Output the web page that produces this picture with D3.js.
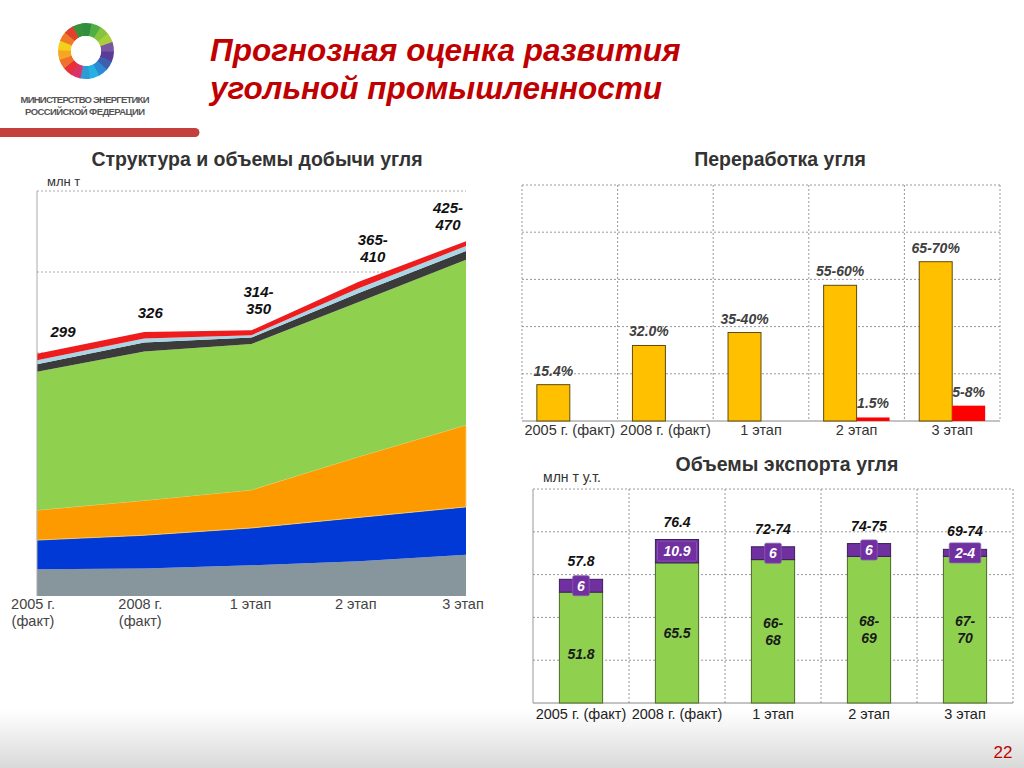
<!DOCTYPE html>
<html><head><meta charset="utf-8">
<script src="https://cdn.jsdelivr.net/npm/d3@7/dist/d3.min.js"></script>
<style>body{margin:0;background:#fff}svg{display:block;font-family:"Liberation Sans",Arial,sans-serif}</style>
</head><body>
<svg id="c" width="1024" height="768"></svg>
<script>
// ---------- DATA ----------
const prodCategories = ["2005 г.|(факт)", "2008 г.|(факт)", "1 этап", "2 этап", "3 этап"];
const prodGrey   = [33, 34, 38, 43, 51];
const prodBlue   = [36, 41, 46, 54, 59];
const prodOrange = [37, 43, 47, 75, 101];
const prodGreen  = [171, 184, 180, 191, 204];
const prodDark   = [9, 11, 8, 11, 11];
const prodLight  = [5, 5, 3, 6, 6];
const prodRed    = [8, 8, 6, 8, 6];
const prodLabels = ["299", "326", "314-|350", "365-|410", "425-|470"];
const prodTicks  = [0, 100, 200, 300, 400, 500];

const procCategories = ["2005 г. (факт)", "2008 г. (факт)", "1 этап", "2 этап", "3 этап"];
const procYellow = [15.4, 32.0, 37.5, 57.5, 67.5];
const procRed    = [0, 0, 0, 1.5, 6.5];
const procYellowLabels = ["15.4%", "32.0%", "35-40%", "55-60%", "65-70%"];
const procRedLabels    = ["", "", "", "1.5%", "5-8%"];
const procTicks = [0, 20, 40, 60, 80, 100];

const expCategories = ["2005 г. (факт)", "2008 г. (факт)", "1 этап", "2 этап", "3 этап"];
const expGreen  = [51.8, 65.5, 67, 68.5, 68.5];
const expPurple = [6, 10.9, 6, 6, 3.3];
const expGreenLabels  = ["51.8", "65.5", "66-|68", "68-|69", "67-|70"];
const expPurpleLabels = ["6", "10.9", "6", "6", "2-4"];
const expTotalLabels  = ["57.8", "76.4", "72-74", "74-75", "69-74"];
const expTicks = [0, 20, 40, 60, 80, 100];

// ---------- PAGE ----------
const svg = d3.select("#c");
const defs = svg.append("defs");
const bg = defs.append("linearGradient").attr("id","bg").attr("x1",0).attr("y1",0).attr("x2",0).attr("y2",1);
bg.append("stop").attr("offset","0").attr("stop-color","#ffffff");
bg.append("stop").attr("offset","1").attr("stop-color","#d9d9d9");
svg.append("rect").attr("width",1024).attr("height",768).attr("fill","#fff");
svg.append("rect").attr("y",710).attr("width",1024).attr("height",58).attr("fill","url(#bg)");

// logo ring
const ringColors = ["#2f8f3c","#4fae45","#86c440","#a9cf3a","#7a55a3","#5a3c96","#3c5fb0","#2b8ad3","#27b0e2","#2c9bd6","#d8336b","#e8303a","#f0712b","#f6a623","#f4cf1c","#ee7a2a","#e2402f","#3a8f3a"];
const logo = svg.append("g").attr("transform","translate(86,51)");
const segA = 2*Math.PI/ringColors.length;
const arcGen = d3.arc().innerRadius(15).outerRadius(28);
logo.selectAll("path").data(ringColors).join("path")
  .attr("d",(d,i)=>arcGen({startAngle:i*segA-0.15, endAngle:(i+1)*segA+0.03-0.15}))
  .attr("fill",d=>d);
logo.append("circle").attr("r",15).attr("fill","#fff");
svg.append("text").attr("x",85).attr("y",103).attr("text-anchor","middle").attr("font-size",9.5).attr("font-weight","bold")
  .attr("fill","#555").attr("textLength",129).text("МИНИСТЕРСТВО ЭНЕРГЕТИКИ");
svg.append("text").attr("x",85).attr("y",115).attr("text-anchor","middle").attr("font-size",9.5).attr("font-weight","bold")
  .attr("fill","#555").attr("textLength",120).text("РОССИЙСКОЙ ФЕДЕРАЦИИ");
svg.append("path").attr("d","M0,128 H195 A4.5,4.5 0 0 1 195,137 H0 Z").attr("fill","#c4403c");

svg.append("text").attr("x",210).attr("y",61).attr("font-size",31.5).attr("font-weight","bold").attr("font-style","italic")
  .attr("fill","#c00000").text("Прогнозная оценка развития");
svg.append("text").attr("x",210).attr("y",99).attr("font-size",31.5).attr("font-weight","bold").attr("font-style","italic")
  .attr("fill","#c00000").text("угольной промышленности");
svg.append("text").attr("x",1003).attr("y",758).attr("text-anchor","middle").attr("font-size",17)
  .attr("fill","#c00000").text("22");

// ---------- LEFT: stacked area ----------
{
  const x0 = 37, x1 = 466, yTop = 191, yBot = 596;
  const x = d3.scalePoint().domain(prodCategories).range([x0, x1]);
  const y = d3.scaleLinear().domain([0, 500]).range([yBot, yTop]);
  const keys = ["grey","blue","orange","green","dark","light","red"];
  const colors = {grey:"#87959c", blue:"#0039d6", orange:"#fd9a00", green:"#8fd14f", dark:"#3b3b3b", light:"#a9d6e6", red:"#ee1c1c"};
  const series = {grey:prodGrey, blue:prodBlue, orange:prodOrange, green:prodGreen, dark:prodDark, light:prodLight, red:prodRed};
  const rows = prodCategories.map((c,i)=>{const r={cat:c}; keys.forEach(k=>r[k]=series[k][i]); return r;});
  const stacked = d3.stack().keys(keys)(rows);
  const g = svg.append("g");
  svg.append("text").attr("x",257).attr("y",166).attr("text-anchor","middle").attr("font-size",19.5).attr("font-weight","bold")
    .attr("fill","#333").text("Структура и объемы добычи угля");
  svg.append("text").attr("x",47).attr("y",186).attr("font-size",13).attr("fill","#333").text("млн т");
  g.selectAll("line.grid").data(prodTicks.slice(1)).join("line")
    .attr("x1",x0).attr("x2",x1).attr("y1",d=>y(d)).attr("y2",d=>y(d))
    .attr("stroke","#aaa").attr("stroke-dasharray","2,2");
  const area = d3.area().x(d=>x(d.data.cat)).y0(d=>y(d[0])).y1(d=>y(d[1]));
  g.selectAll("path.layer").data(stacked).join("path")
    .attr("d",area).attr("fill",d=>colors[d.key])
    .attr("stroke",d=>d.key==="orange"?"#f2d27a":"none").attr("stroke-width",0.8);
  g.append("line").attr("x1",x0).attr("x2",x0).attr("y1",yTop).attr("y2",yBot).attr("stroke","#aaa");
  // labels
  const nudge = [26, 6, 7, 14, -18];
  const lift  = [17, 14, 16, 20, 11];
  const top = stacked[stacked.length-1];
  prodLabels.forEach((lab,i)=>{
    const lines = lab.split("|");
    const t = g.append("text").attr("text-anchor","middle").attr("font-size",15).attr("font-weight","bold")
      .attr("font-style","italic").attr("fill","#111");
    lines.forEach((ln,j)=>{
      t.append("tspan").attr("x",x(prodCategories[i])+nudge[i])
        .attr("y",y(top[i][1]) - lift[i] - (lines.length-1-j)*17).text(ln);
    });
  });
  // x labels
  const shift = [-4, -4, -1, -3, -3];
  prodCategories.forEach((c,i)=>{
    const lines = c.split("|");
    const t = g.append("text").attr("text-anchor","middle").attr("font-size",14.5).attr("fill","#444");
    lines.forEach((ln,j)=>t.append("tspan").attr("x",x(c)+shift[i]).attr("y",609+j*17).text(ln));
  });
}

// ---------- RIGHT TOP: grouped bars ----------
{
  const x0 = 522, x1 = 1000, yTop = 185, yBot = 421;
  const x = d3.scaleBand().domain(procCategories).range([x0, x1]);
  const xs = d3.scaleBand().domain(["y","r"]).range([0, x.bandwidth()]).paddingOuter(0.45).paddingInner(0);
  const y = d3.scaleLinear().domain([0, 100]).range([yBot, yTop]);
  const g = svg.append("g");
  svg.append("text").attr("x",780).attr("y",166).attr("text-anchor","middle").attr("font-size",19.5).attr("font-weight","bold")
    .attr("fill","#333").text("Переработка угля");
  g.selectAll("line.h").data(procTicks.slice(1)).join("line")
    .attr("x1",x0).attr("x2",x1).attr("y1",d=>y(d)).attr("y2",d=>y(d)).attr("stroke","#999").attr("stroke-dasharray","2,2");
  const vx = procCategories.map(c=>x(c)).concat([x1]);
  g.selectAll("line.v").data(vx).join("line")
    .attr("x1",d=>d).attr("x2",d=>d).attr("y1",yTop).attr("y2",yBot).attr("stroke","#999").attr("stroke-dasharray","2,2");
  g.append("line").attr("x1",x0).attr("x2",x1).attr("y1",yBot).attr("y2",yBot).attr("stroke","#888");
  procCategories.forEach((c,i)=>{
    g.append("rect").attr("x",x(c)+xs("y")).attr("y",y(procYellow[i])).attr("width",xs.bandwidth())
      .attr("height",yBot-y(procYellow[i])).attr("fill","#ffc000").attr("stroke","#5e4a10").attr("stroke-width",1);
    g.append("text").attr("x",x(c)+xs("y")+xs.bandwidth()/2).attr("y",y(procYellow[i])-9).attr("text-anchor","middle")
      .attr("font-size",14).attr("font-weight","bold").attr("font-style","italic").attr("fill","#404040").text(procYellowLabels[i]);
    if (procRed[i] > 0) {
      g.append("rect").attr("x",x(c)+xs("r")).attr("y",y(procRed[i])).attr("width",xs.bandwidth())
        .attr("height",yBot-y(procRed[i])).attr("fill","#ff0000");
      g.append("text").attr("x",x(c)+xs("r")+xs.bandwidth()/2).attr("y",y(procRed[i])-9).attr("text-anchor","middle")
        .attr("font-size",14).attr("font-weight","bold").attr("font-style","italic").attr("fill","#404040").text(procRedLabels[i]);
    }
    g.append("text").attr("x",x(c)+x.bandwidth()/2).attr("y",434.5).attr("text-anchor","middle").attr("font-size",14.5)
      .attr("fill","#333").text(c);
  });
}

// ---------- RIGHT BOTTOM: stacked bars ----------
{
  const x0 = 533, x1 = 1013, yTop = 489, yBot = 703;
  const x = d3.scaleBand().domain(expCategories).range([x0, x1]).paddingInner(0.55).paddingOuter(0.275);
  const xb = d3.scaleBand().domain(expCategories).range([x0, x1]);
  const y = d3.scaleLinear().domain([0, 100]).range([yBot, yTop]);
  const g = svg.append("g");
  svg.append("text").attr("x",787).attr("y",471).attr("text-anchor","middle").attr("font-size",19.5).attr("font-weight","bold")
    .attr("fill","#333").text("Объемы экспорта угля");
  svg.append("text").attr("x",543).attr("y",482).attr("font-size",14).attr("fill","#333").text("млн т у.т.");
  g.selectAll("line.h").data(expTicks.slice(1)).join("line")
    .attr("x1",x0).attr("x2",x1).attr("y1",d=>y(d)).attr("y2",d=>y(d)).attr("stroke","#999").attr("stroke-dasharray","2,2");
  const vx = expCategories.slice(1).map(c=>xb(c)).concat([x1]);
  g.selectAll("line.v").data(vx).join("line")
    .attr("x1",d=>d).attr("x2",d=>d).attr("y1",yTop).attr("y2",yBot).attr("stroke","#999").attr("stroke-dasharray","2,2");
  g.append("line").attr("x1",x0).attr("x2",x1).attr("y1",yBot).attr("y2",yBot).attr("stroke","#888");
  g.append("line").attr("x1",x0).attr("x2",x0).attr("y1",yTop).attr("y2",yBot).attr("stroke","#999");
  expCategories.forEach((c,i)=>{
    const bx = x(c), bw = x.bandwidth(), cx = bx + bw/2;
    const gTop = y(expGreen[i]), pTop = y(expGreen[i]+expPurple[i]);
    g.append("rect").attr("x",bx).attr("y",gTop).attr("width",bw).attr("height",yBot-gTop)
      .attr("fill","#8fd14f").attr("stroke","#4b6a22").attr("stroke-width",1);
    g.append("rect").attr("x",bx).attr("y",pTop).attr("width",bw).attr("height",gTop-pTop)
      .attr("fill","#7030a0").attr("stroke","#3e1d5c").attr("stroke-width",1);
    // purple label box
    const pl = expPurpleLabels[i];
    const pw = Math.min(bw, pl.length*7.5+9);
    const pc = (gTop+pTop)/2;
    g.append("rect").attr("x",cx-pw/2).attr("y",pc-10).attr("width",pw).attr("height",20).attr("rx",1.5)
      .attr("fill","#7030a0").attr("stroke","#8a5bb5").attr("stroke-width",0.8);
    g.append("text").attr("x",cx).attr("y",pc+5).attr("text-anchor","middle").attr("font-size",14).attr("font-weight","bold")
      .attr("font-style","italic").attr("fill","#fff").text(pl);
    // green label
    const gl = expGreenLabels[i].split("|");
    const gc = (gTop+yBot)/2 + (i===0?6:0);
    const t = g.append("text").attr("text-anchor","middle").attr("font-size",14).attr("font-weight","bold")
      .attr("font-style","italic").attr("fill","#1a1a1a");
    gl.forEach((ln,j)=>t.append("tspan").attr("x",cx).attr("y",gc+5+(j-(gl.length-1)/2)*17).text(ln));
    // total label
    g.append("text").attr("x",cx).attr("y",pTop-13).attr("text-anchor","middle").attr("font-size",14).attr("font-weight","bold")
      .attr("font-style","italic").attr("fill","#111").text(expTotalLabels[i]);
    g.append("text").attr("x",xb(c)+xb.bandwidth()/2).attr("y",718.5).attr("text-anchor","middle").attr("font-size",14.5)
      .attr("fill","#222").text(c);
  });
}
</script>
</body></html>
